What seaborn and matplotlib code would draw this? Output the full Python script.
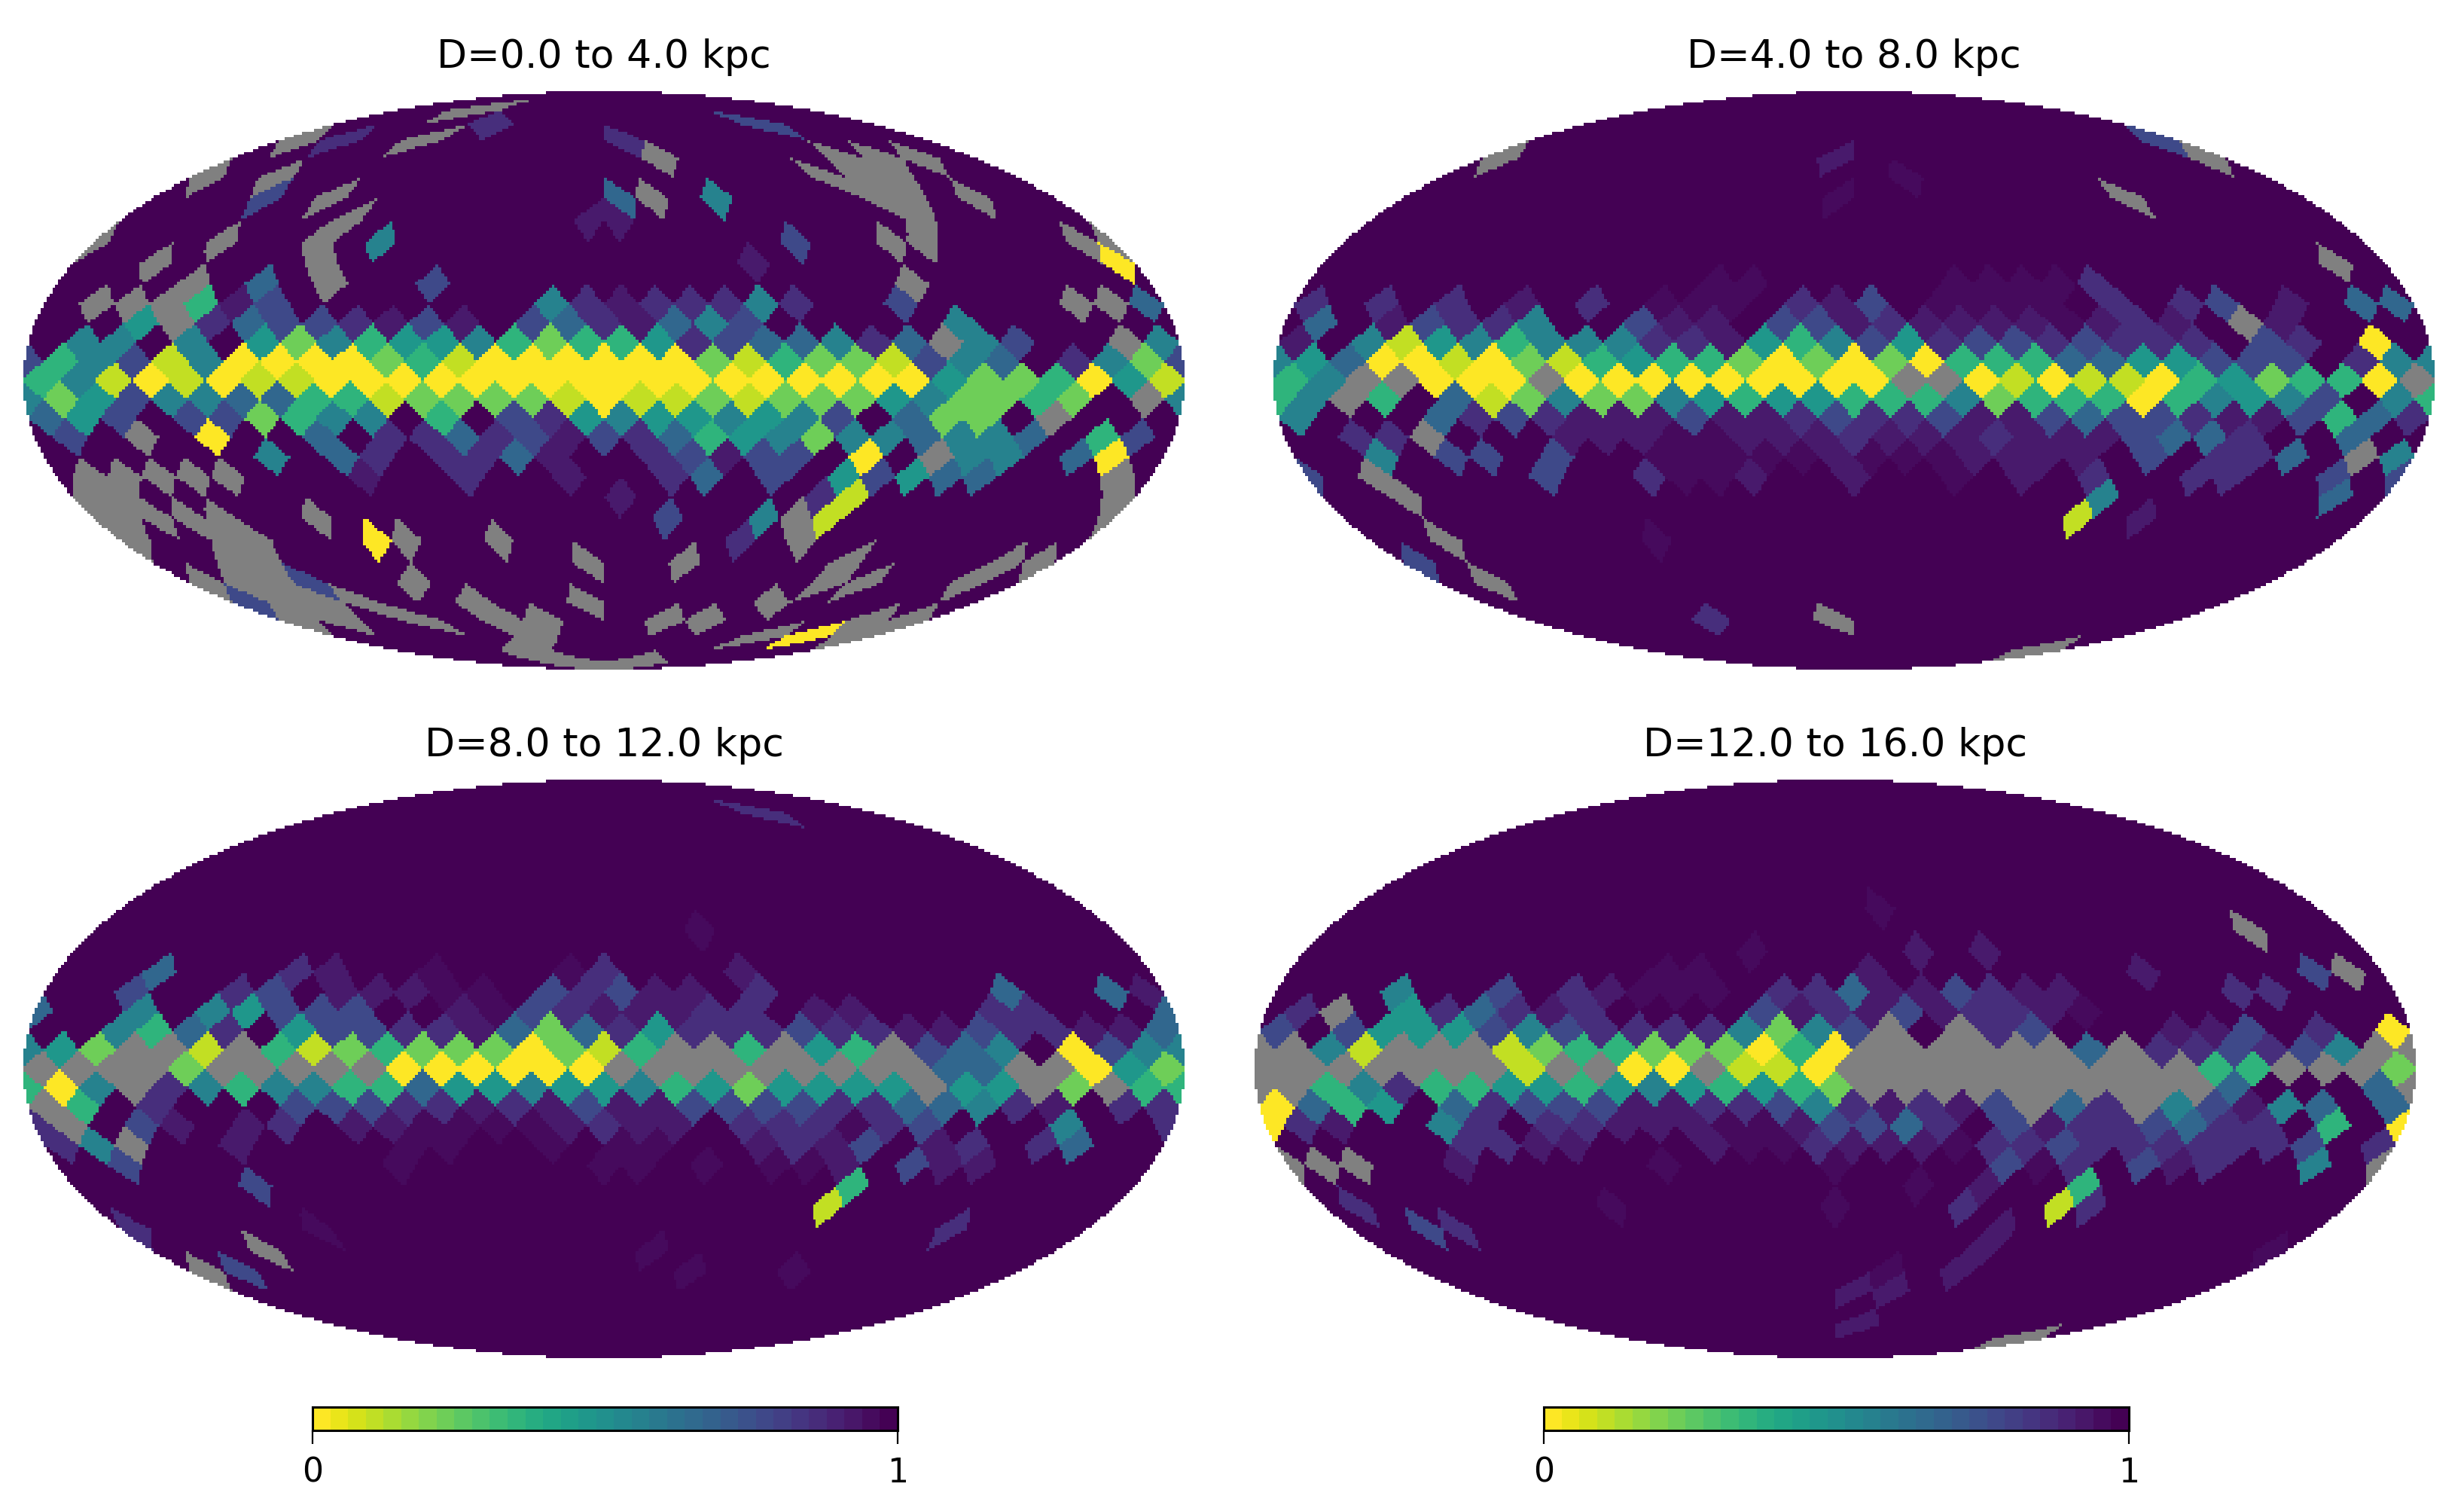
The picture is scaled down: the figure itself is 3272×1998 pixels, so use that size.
# Sky maps of four distance shells, drawn on a Mollweide grid with seaborn heatmaps
import numpy as np
import matplotlib
matplotlib.use('Agg')
import matplotlib.pyplot as plt
from matplotlib.colors import ListedColormap
import seaborn as sns

NSIDE = 8
TITLES = ['D=0.0 to 4.0 kpc', 'D=4.0 to 8.0 kpc', 'D=8.0 to 12.0 kpc', 'D=12.0 to 16.0 kpc']

# one string per ring from north to south, pixels left to right as seen in the picture
# each character is a value (see LEVELS), x = no data (grey)
LEVELS = {'0': 0.0, '1': 0.09, '2': 0.22, '3': 0.35, '4': 0.47, '5': 0.56, '6': 0.67,
          '7': 0.78, '8': 0.87, '9': 0.93, 'f': 0.975, '.': 1.0, 'x': np.nan}

SHELL_0_4 = [
    "....",
    ".x......",
    "...8.....7..",
    "x8.x....8.......",
    "...........x....xxx.",
    "x.x...............xxx...",
    "...7.x........6x.5....xx.x..",
    ".......x .......9 9....... ..x.....",
    "x...x..x .5...... ......7. .xx....x",
    "..x....x ........ ....9... .......0",
    "....x.6. x..7.... ........ .x......",
    ".xxx397. ......58 988858.. 7....xx6",
    "...4x867 78979.76 89657... ..5.....",
    ".55.5.42 53445323 34876658 6x57..x5",
    "73571500 00231000 00021322 1756.852",
    "35101011 00000000 00000000 04223041",
    "52475566 33122221 01121222 452232.x",
    "647.7723 55.3.784 5445457. 622.x...",
    ".7.x.0.. 6.886879 78634525 56556.37",
    "......5. 68.8869. .87977.0 .x55.60.",
    ".xxxxx.. .9..8..9 ..86.7.4 7466...x",
    "xx...... ........ 9.....81 .......x",
    "xxxxx..x ........ ..7..5x1 ........",
    "x..xx... 0x..x... ....8.x. ........",
    "..xx.........x..x....x....xx",
    "xxx7..x...........xx..x.",
    "7xxx..x..x....x.....",
    "xx.x.xx..xx...xx",
    "....x....x0x",
    "..x.....",
    ".xx.",
]
SHELL_4_8 = [
    "....",
    "........",
    "............",
    "...............7",
    "x........9.........x",
    ".............f..........",
    ".............f........x.....",
    "........ ........ ........ ........",
    "........ ........ ........ ........",
    "........ ........ ........ ......x.",
    "........ ....ff.. ...ffff8 ........",
    "8.8.8.9. 8.fff.89 7.ffff.8 .87.9.66",
    ".6.97885 ..799.77 989999f9 89.x9...",
    "9.514535 55889435 74877878 88.78.0.",
    "54600102 13433202 02033366 44777.85",
    "35xx000x 00000000 0xx01011 0342330x",
    "35x3.612 52254344 33352333 035457.5",
    "5...6878 99979987 88799767 78997368",
    "..88x... 999ff999 89998999 7668..6.",
    "..5.77.7 ..fffff9 fff9999. 7.886.x5",
    "7.x....7 ..8ff9.. 9..f.9.8 ..88..7.",
    "..x..... ........ .......5 ......6.",
    "........ ........ .......1 .9......",
    "..x..... .f...... ........ ........",
    "7...........................",
    ".x......................",
    "....................",
    "....8..x........",
    "............",
    ".......x",
    "....",
]
SHELL_8_12 = [
    "....",
    "........",
    ".........8..",
    "................",
    "....................",
    "........................",
    "............................",
    "........ ........ ........ ........",
    "........ ........ ...f.... ........",
    "........ ........ ........ ........",
    "...6...8 9..f...f 8...9... ........",
    "..7..87. 999ff.78 799.8... ...6..69",
    "6..5.547 77..9f78 99988.99 ...88...",
    "..5368.4 77889626 84888788 99788996",
    "542xx1x3 12322202 13xx3x43 x765.075",
    "xxxx2xxx xx000000 xxxxxxxx x66xx042",
    "305x8535 53364454 45342444 4x44x2x3",
    "x3.8...7 77889897 99777788 66589.88",
    "8x.79.98 .99ffff9 899.888f 87...5..",
    "85x..9.. ..ff..f. ff..9897 .98.86..",
    "..7..... ..f..... ff.f.ff9 .799....",
    ".....7.. ........ .......3 ........",
    "........ ........ .......1 ........",
    "8.....f. ........ ........ ...8....",
    "...x...........f............",
    "x7............f..f......",
    "....................",
    "................",
    "............",
    "........",
    "....",
]
SHELL_12_16 = [
    "....",
    "........",
    "............",
    "................",
    "....................",
    "........................",
    "............................",
    "........ ........ .f...... ........",
    "........ ........ ........ .....x..",
    "........ .....f.. ..9.9... ........",
    "........ ...ff... .9...... .9....7x",
    "...5..7. 89fff.88 6997899. ...88...",
    ".8x.4868 98....79 8979889f ........",
    "7.744475 78888525 7x.x87.. .997.8.0",
    "xx51xxx1 23322203 0xxxxxx6 x887875x",
    "xxxxxxx1 xx00x110 xxxxxxxx xx33xxx2",
    "xx358334 43454343 2xxxxxxx xxx6...6",
    "0634.687 77998875 89897x68 x57956.6",
    "089..58. 88999ff9 7768.798 87688.3.",
    ".....889 9...9ff8 999f8878 888887.8",
    "xxx..9.. ...f.... f....7f8 .798..5.",
    "........ ........ ..f.9..3 ........",
    ".8...... .f...... f...8..1 8.......",
    "..78.... ........ .....9.. ........",
    "..................9........f",
    ".............f.9........",
    "..........99........",
    "................",
    "......9.....",
    ".......x",
    "....",
]
SHELLS = [SHELL_0_4, SHELL_4_8, SHELL_8_12, SHELL_12_16]

CBAR_TICKS = [0, 1]
CBAR_STEPS = np.linspace(0, 1, 33)

W, H = 3272, 1998
MAP_W, MAP_H = 1542, 768
MAP_POS = [(31, 121), (1691, 121), (31, 1035), (1666, 1035)]
CBAR_POS = [(415, 1868, 777, 31), (2050, 1868, 777, 31)]
NX, NY = 400, 200


def to_table(rings):
    # ring strings -> 2d table [ring, pixel]
    table = np.full((4 * NSIDE - 1, 4 * NSIDE), np.nan)
    for i, row in enumerate(rings):
        row = row.replace(' ', '')
        assert len(row) == 4 * min(i + 1, NSIDE, 4 * NSIDE - 1 - i), (i, len(row))
        for j, c in enumerate(row):
            table[i, j] = LEVELS[c]
    return table


def sky_grid():
    # which ring and pixel of the grid each raster cell of the Mollweide picture falls in
    xs = (np.arange(NX) + 0.5) / NX * 2 - 1
    ys = 1 - (np.arange(NY) + 0.5) / NY * 2
    x, y = np.meshgrid(xs, ys)
    inside = x ** 2 + y ** 2 <= 1
    t = np.arcsin(np.clip(y, -1, 1))
    z = (2 * t + np.sin(2 * t)) / np.pi
    frac = np.clip(x / np.maximum(np.cos(t), 1e-6), -1, 0.99999)
    tt = (frac + 1) * 2

    # equatorial belt
    a = NSIDE * (0.5 + tt)
    b = NSIDE * z * 0.75
    jp = np.floor(a - b).astype(int)
    jm = np.floor(a + b).astype(int)
    ir = NSIDE + 1 + jp - jm
    shift = 1 - (ir & 1)
    ring_eq = NSIDE + ir - 1
    pix_eq = ((jp + jm - NSIDE + shift + 1) // 2) % (4 * NSIDE)

    # polar caps
    tp = tt - np.floor(tt)
    tmp = NSIDE * np.sqrt(3 * np.maximum(1 - np.abs(z), 0))
    jp2 = np.floor(tp * tmp).astype(int)
    jm2 = np.floor((1 - tp) * tmp).astype(int)
    ir2 = np.clip(jp2 + jm2 + 1, 1, NSIDE)
    pix_cap = np.floor(tt * ir2).astype(int) % (4 * ir2)
    ring_cap = np.where(z > 0, ir2, 4 * NSIDE - ir2)

    polar = np.abs(z) > 2 / 3
    ring = np.where(polar, ring_cap, ring_eq)
    pix = np.where(polar, pix_cap, pix_eq)
    return inside, np.clip(ring, 1, 4 * NSIDE - 1) - 1, pix


def place(fig, x, y, w, h):
    return fig.add_axes([x / W, 1 - (y + h) / H, w / W, h / H])


def draw_map(fig, pos, title, rings, inside, ring, pix):
    ax = place(fig, pos[0], pos[1], MAP_W, MAP_H)
    vals = to_table(rings)[ring, pix]
    grey = np.zeros_like(vals)
    sns.heatmap(grey, mask=~inside, cmap=ListedColormap(['#808080']), cbar=False, ax=ax,
                xticklabels=False, yticklabels=False)
    sns.heatmap(vals, mask=~inside | np.isnan(vals), cmap='viridis_r', vmin=0, vmax=1, cbar=False,
                ax=ax, xticklabels=False, yticklabels=False)
    ax.set_title(title, fontsize=37.5, pad=22, color='black')


def draw_cbar(fig, pos):
    ax = place(fig, *pos)
    sns.heatmap(CBAR_STEPS[None, :], cmap='viridis_r', vmin=0, vmax=1, cbar=False, ax=ax,
                xticklabels=False, yticklabels=False)
    for spine in ax.spines.values():
        spine.set_visible(True)
        spine.set_color('black')
        spine.set_linewidth(2.2)
    ax.set_xticks([0, len(CBAR_STEPS)])
    ax.set_xticklabels(CBAR_TICKS, fontsize=31.7, color='black')
    ax.tick_params(axis='x', length=13, width=1.6, pad=12, bottom=True, color='black')


def main():
    sns.set_style('white')
    fig = plt.figure(figsize=(W / 100, H / 100), dpi=100)
    inside, ring, pix = sky_grid()
    for pos, title, rings in zip(MAP_POS, TITLES, SHELLS):
        draw_map(fig, pos, title, rings, inside, ring, pix)
    for pos in CBAR_POS:
        draw_cbar(fig, pos)
    fig.savefig('out.png', dpi=100)


if __name__ == '__main__':
    main()
